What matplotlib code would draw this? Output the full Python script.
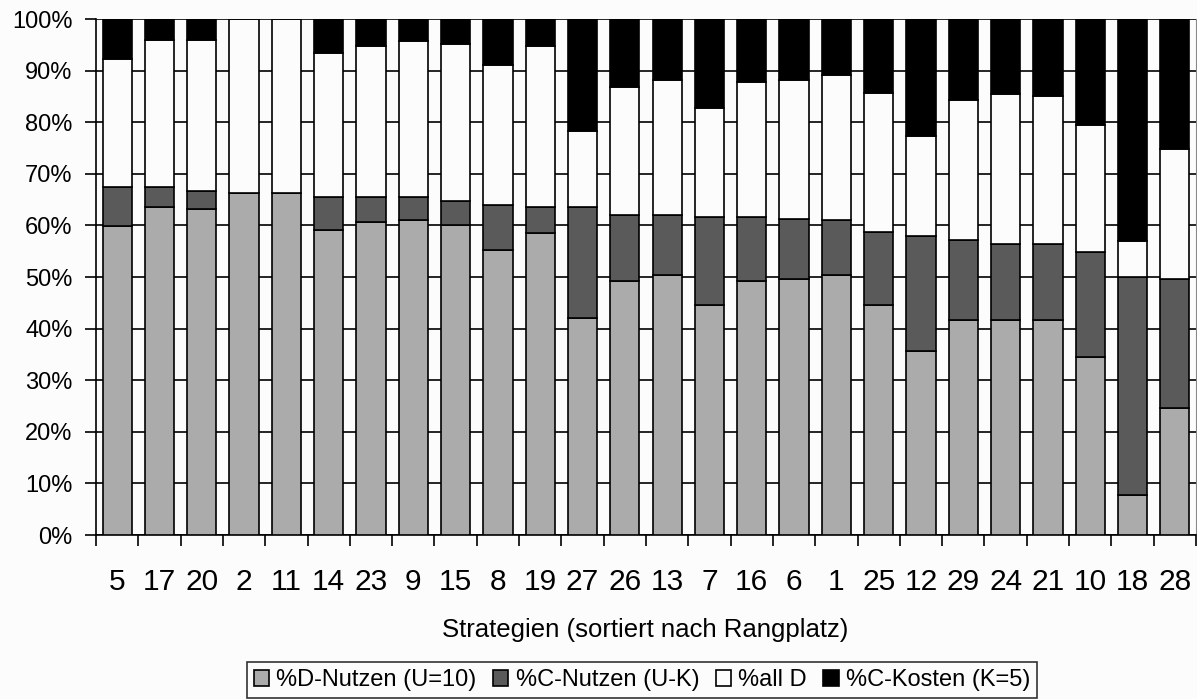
import matplotlib
matplotlib.use('Agg')
import matplotlib.pyplot as plt
import numpy as np
from matplotlib.ticker import FixedLocator, PercentFormatter

# strategies, sorted by rank
strategien = ['5', '17', '20', '2', '11', '14', '23', '9', '15', '8', '19', '27', '26',
              '13', '7', '16', '6', '1', '25', '12', '29', '24', '21', '10', '18', '28']

# shares in percent (stacked from bottom to top)
d_nutzen = [59.8, 63.5, 63.2, 66.3, 66.3, 59.2, 60.6, 61.0, 60.1, 55.3, 58.6, 42.1, 49.2,
            50.3, 44.6, 49.2, 49.6, 50.3, 44.6, 35.6, 41.6, 41.6, 41.6, 34.5, 7.7, 24.6]
c_nutzen = [7.6, 3.9, 3.4, 0.0, 0.0, 6.3, 4.9, 4.5, 4.6, 8.6, 4.9, 21.4, 12.9,
            11.8, 17.0, 12.4, 11.6, 10.7, 14.1, 22.3, 15.6, 14.8, 14.8, 20.3, 42.3, 25.0]
all_d = [24.8, 28.5, 29.3, 33.7, 33.7, 28.0, 29.3, 30.2, 30.5, 27.2, 31.3, 14.7, 24.8,
         26.0, 21.1, 26.1, 26.9, 28.1, 27.0, 19.5, 27.1, 29.0, 28.6, 24.6, 7.0, 25.2]
c_kosten = [7.8, 4.1, 4.1, 0.0, 0.0, 6.5, 5.2, 4.3, 4.8, 8.9, 5.2, 21.8, 13.1,
            11.9, 17.3, 12.3, 11.9, 10.9, 14.3, 22.6, 15.7, 14.6, 15.0, 20.6, 43.0, 25.2]

series = [
    (d_nutzen, '%D-Nutzen (U=10)', '#ababab'),
    (c_nutzen, '%C-Nutzen (U-K)', '#5a5a5a'),
    (all_d, '%all D', '#fcfcfc'),
    (c_kosten, '%C-Kosten (K=5)', '#000000'),
]

plt.rcParams['font.family'] = ['Liberation Sans', 'DejaVu Sans']

fig = plt.figure(figsize=(11.97, 6.99), dpi=100, facecolor='#fcfcfc')
ax = fig.add_axes([96 / 1197, 1 - 535 / 699, 1100 / 1197, 516 / 699])
ax.set_facecolor('#fcfcfc')

x = np.arange(len(strategien))
bottom = np.zeros(len(strategien))
for vals, name, col in series:
    vals = np.array(vals)
    ax.bar(x, vals, 0.69, bottom=bottom, color=col, edgecolor='black',
           linewidth=1.2, label=name, zorder=3)
    bottom += vals

ax.set_xlim(-0.5, len(strategien) - 0.5)
ax.set_ylim(0, 100)

ax.set_yticks(np.arange(0, 101, 10))
ax.yaxis.set_major_formatter(PercentFormatter(decimals=0))
ax.yaxis.grid(True, color='black', linewidth=1.2, zorder=0)
ax.set_axisbelow(True)

ax.set_xticks(x)
ax.set_xticklabels(strategien)
ax.xaxis.set_minor_locator(FixedLocator(np.arange(-0.5, len(strategien), 1)))
ax.tick_params(axis='x', which='major', length=0, pad=24, labelsize=21.5)
ax.tick_params(axis='x', which='minor', length=8, width=1.2, direction='out')
ax.tick_params(axis='y', length=8, width=1.2, pad=9, labelsize=17)

ax.spines['top'].set_visible(False)
ax.spines['right'].set_color('#888888')
ax.spines['right'].set_linewidth(0.8)
ax.spines['left'].set_linewidth(1.2)
ax.spines['bottom'].set_linewidth(1.2)

fig.text(645 / 1197, 1 - 630 / 699, 'Strategien (sortiert nach Rangplatz)',
         ha='center', va='center', fontsize=18.5)

leg = fig.legend(loc='center', bbox_to_anchor=(642 / 1197, 1 - 680 / 699), ncol=4,
                 fontsize=17, frameon=True, fancybox=False, edgecolor='black',
                 handlelength=0.65, handleheight=0.65, handletextpad=0.3,
                 columnspacing=0.7, borderpad=0.3, borderaxespad=0)
leg.get_frame().set_linewidth(1.2)
leg.get_frame().set_facecolor('#fcfcfc')

fig.savefig('out.png', dpi=100, facecolor=fig.get_facecolor())
